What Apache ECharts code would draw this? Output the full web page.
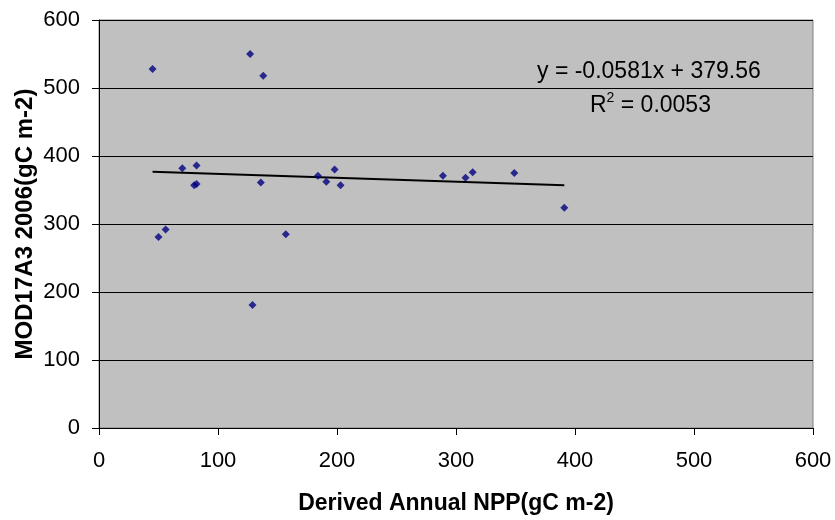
<!DOCTYPE html>
<html><head><meta charset="utf-8">
<script src="https://cdn.jsdelivr.net/npm/echarts@6/dist/echarts.min.js"></script>
<style>html,body{margin:0;padding:0;background:#fff}#c{width:835px;height:520px}</style>
</head><body><div id="c"></div>
<script>
const npp = [45,127,138,70,82,80,82,136,184,191,50,56,157,129,198,203,289,308,314,349,391];
const mod17 = [528,550,518,382,386,357,359,361,371,362,281,292,285,181,380,357,371,368,376,375,324];
const xTicks = [0,100,200,300,400,500,600];
const yTicks = [0,100,200,300,400,500,600];
const slope = -0.0581, intercept = 379.56, r2 = 0.0053;

const pts = npp.map((x,i)=>[x,mod17[i]]);
const xmin = Math.min(...npp), xmax = Math.max(...npp);
const trend = [[xmin, slope*xmin+intercept],[xmax, slope*xmax+intercept]];

const chart = echarts.init(document.getElementById('c'));
const font = 'Liberation Sans, Arial, sans-serif';
chart.setOption({
  animation:false,
  grid:{left:99,right:22,top:20,bottom:90,show:true,backgroundColor:'#C0C0C0',borderColor:'#808080',borderWidth:1},
  xAxis:{type:'value',min:xTicks[0],max:xTicks[xTicks.length-1],interval:100,
    name:'Derived Annual NPP(gC m-2)',nameLocation:'middle',nameGap:64,nameMoveOverlap:false,
    nameTextStyle:{fontFamily:font,fontWeight:'bold',fontSize:23,color:'#000'},
    axisLine:{lineStyle:{color:'#000',width:1}},
    axisTick:{show:true,length:7,lineStyle:{color:'#000'}},
    axisLabel:{fontFamily:font,fontSize:22,color:'#000',margin:22},
    splitLine:{show:false}},
  yAxis:{type:'value',min:yTicks[0],max:yTicks[yTicks.length-1],interval:100,
    name:'MOD17A3 2006(gC m-2)',nameLocation:'middle',nameGap:62,nameMoveOverlap:false,
    nameTextStyle:{fontFamily:font,fontWeight:'bold',fontSize:24,color:'#000'},
    axisLine:{show:true,lineStyle:{color:'#000',width:1}},
    axisTick:{show:true,length:7,lineStyle:{color:'#000'}},
    axisLabel:{fontFamily:font,fontSize:22,color:'#000',margin:19},
    splitLine:{show:true,lineStyle:{color:'#000',width:1}}},
  series:[
    {type:'scatter',data:pts,symbol:'diamond',symbolSize:8,itemStyle:{color:'#000080'},z:3},
    {type:'line',data:trend,symbol:'none',lineStyle:{color:'#000',width:2},z:2}
  ],
  graphic:[
    {type:'text',left:537,top:60,style:{text:'y = '+slope+'x + '+intercept.toFixed(2),fontFamily:font,fontSize:23,fill:'#000'}},
    {type:'text',left:590,top:91,style:{text:'{n|R}{s|2}{n| = '+r2+'}',
      rich:{n:{fontFamily:font,fontSize:23,fill:'#000',verticalAlign:'bottom'},s:{fontFamily:font,fontSize:14,fill:'#000',verticalAlign:'top',padding:[0,0,12,0]}}}}
  ]
});
</script></body></html>
